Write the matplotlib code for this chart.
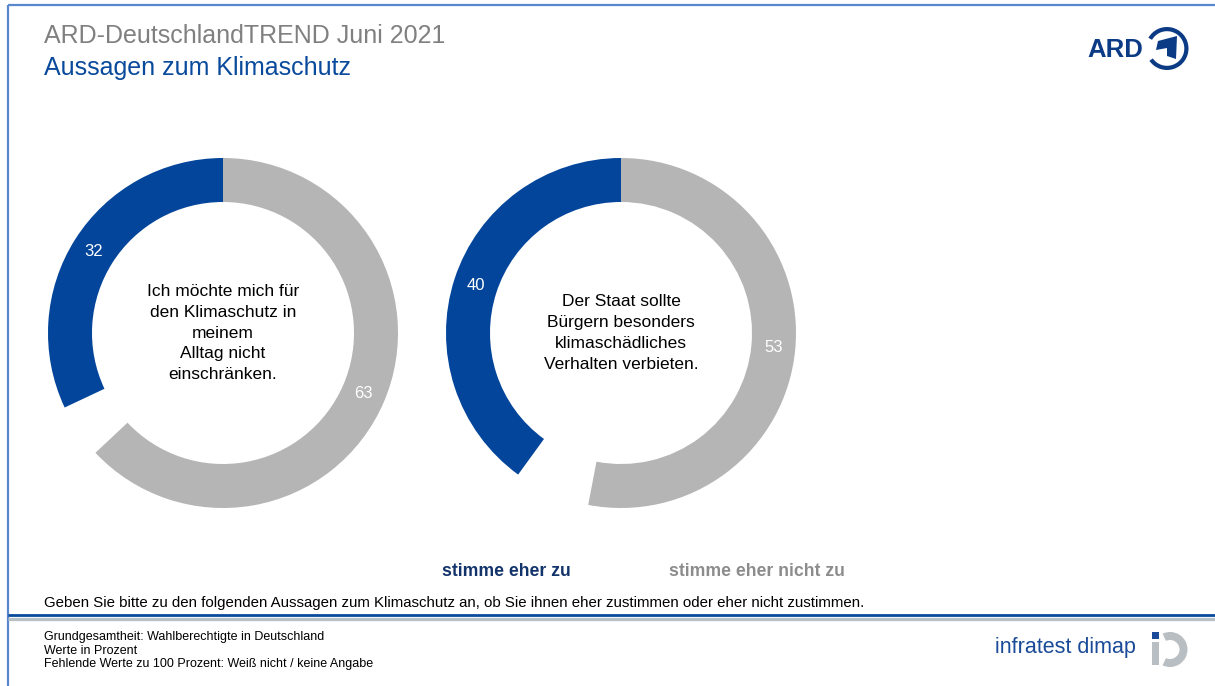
import matplotlib
matplotlib.use("Agg")
import matplotlib.pyplot as plt
from matplotlib.patches import Wedge, Rectangle, Polygon

plt.rcParams["font.family"] = ["Liberation Sans", "DejaVu Sans"]

# data
statements = [
    "Ich möchte mich für\nden Klimaschutz in\nmeinem\nAlltag nicht\neinschränken.",
    "Der Staat sollte\nBürgern besonders\nklimaschädliches\nVerhalten verbieten.",
]
agree = [32, 40]
disagree = [63, 53]
legend_labels = ["stimme eher zu", "stimme eher nicht zu"]

title = "ARD-DeutschlandTREND Juni 2021"
subtitle = "Aussagen zum Klimaschutz"
question = ("Geben Sie bitte zu den folgenden Aussagen zum Klimaschutz an, "
            "ob Sie ihnen eher zustimmen oder eher nicht zustimmen.")
notes = [
    "Grundgesamtheit: Wahlberechtigte in Deutschland",
    "Werte in Prozent",
    "Fehlende Werte zu 100 Prozent: Weiß nicht / keine Angabe",
]

BLUE = "#03459a"
GRAY = "#b5b5b5"
W, H = 1215, 686

fig = plt.figure(figsize=(W / 100, H / 100), dpi=100)
fig.patch.set_facecolor("white")

# overlay in pixel coordinates for frame, texts and logos
ov = fig.add_axes([0, 0, 1, 1])
ov.set_xlim(0, W)
ov.set_ylim(H, 0)
ov.axis("off")

# frame
ov.plot([8, W], [5, 5], color="#5a88cc", lw=1.6, solid_capstyle="butt")
ov.plot([8, 8], [5, H], color="#5a88cc", lw=1.6, solid_capstyle="butt")
ov.plot([8, W], [614.5, 614.5], color="#0a4a9c", lw=2.0, solid_capstyle="butt")
ov.plot([8, W], [619, 619], color="#b8c0c8", lw=2.4, solid_capstyle="butt")

# titles
ov.text(44, 43, title, fontsize=18, color="#808080", va="baseline")
ov.text(44, 75, subtitle, fontsize=18, color="#0a4a9c", va="baseline")

# legend
ov.text(506, 572, legend_labels[0], fontsize=12.7, fontweight="bold",
        color="#13336b", ha="center", va="center")
ov.text(757, 572, legend_labels[1], fontsize=12.7, fontweight="bold",
        color="#8c8c8c", ha="center", va="center")

# question and notes
ov.text(44, 603, question, fontsize=10.8, color="black", va="center")
for i, n in enumerate(notes):
    ov.text(44, 637 + i * 13.5, n, fontsize=9.0, color="black", va="center")

# ARD logo
ov.text(1087, 50, "ARD", fontsize=18.5, fontweight="bold", color="#0b3b85",
        va="center", ha="left")
ov.add_patch(Wedge((1167, 48.5), 21.5, -150, 145, width=4.2,
                   facecolor="#0b3b85", edgecolor="none"))
ov.add_patch(Polygon([(1158, 41), (1177, 36), (1176, 59), (1167, 56),
                      (1167, 48), (1156, 50)],
                     closed=True, facecolor="#0b3b85", edgecolor="none"))

# infratest dimap logo
ov.text(995, 648, "infratest dimap", fontsize=15.5, color="#1a4a98",
        va="center", ha="left")
ov.add_patch(Rectangle((1152, 632), 7, 7, facecolor="#1a4a98", edgecolor="none"))
ov.add_patch(Rectangle((1152, 642), 7, 23, facecolor="#b9bec3", edgecolor="none"))
ov.add_patch(Wedge((1170, 649.5), 17.5, -115, 115, width=8,
                   facecolor="#b9bec3", edgecolor="none"))

# donuts
centers_x = [223, 621]
cy, r_out, r_in = 333, 175, 131
for cx, stmt, a, d in zip(centers_x, statements, agree, disagree):
    ax = fig.add_axes([(cx - r_out) / W, (H - cy - r_out) / H,
                       2 * r_out / W, 2 * r_out / H])
    wedges, texts = ax.pie(
        [d, 100 - a - d, a],
        startangle=90,
        counterclock=False,
        colors=[GRAY, "none", BLUE],
        radius=1,
        labels=[str(d), "", str(a)],
        labeldistance=(r_out + r_in) / 2 / r_out,
        wedgeprops=dict(width=(r_out - r_in) / r_out, edgecolor="none"),
        textprops=dict(color="white", fontsize=12),
    )
    for t in texts:
        t.set_ha("center")
        t.set_va("center")
    ax.set_xlim(-1, 1)
    ax.set_ylim(-1, 1)
    ax.text(0, 0, stmt, ha="center", va="center", fontsize=12.5,
            linespacing=1.48, color="black")

fig.savefig("out.png", dpi=100, facecolor="white")
